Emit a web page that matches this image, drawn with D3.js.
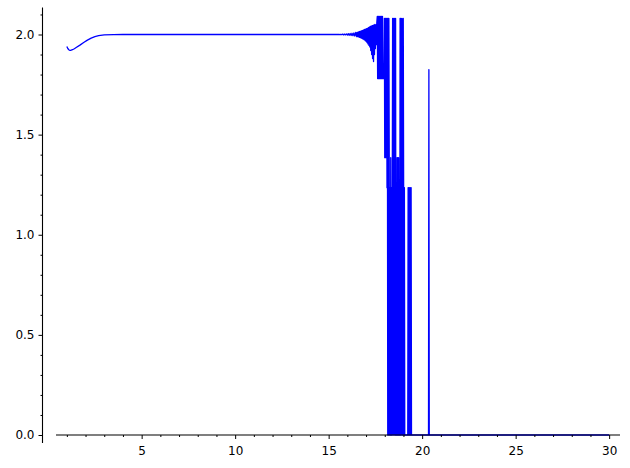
<!DOCTYPE html>
<html>
<head>
<meta charset="utf-8">
<script src="https://cdn.jsdelivr.net/npm/d3@7/dist/d3.min.js"></script>
<style>
  html, body { margin: 0; padding: 0; background: #ffffff; }
  svg { display: block; }
  text { font-family: "DejaVu Sans", sans-serif; font-size: 12px; fill: #000; }
</style>
</head>
<body>
<div id="chart"></div>
<script>
// ---- data ----
// smooth start
const smoothX = [1.00, 1.05, 1.10, 1.15, 1.20, 1.30, 1.40, 1.50, 1.70, 1.90, 2.10, 2.30, 2.50, 2.70, 3.00, 3.50, 4.00, 6.00, 8.00, 10.00, 12.00, 14.00, 15.50];
const smoothY = [1.940, 1.930, 1.924, 1.921, 1.921, 1.924, 1.929, 1.935, 1.947, 1.960, 1.972, 1.982, 1.989, 1.994, 1.998, 1.9995, 2.000, 2.000, 2.000, 2.000, 2.000, 2.000, 2.000];

// growing noise around 2
const noiseX = [15.55, 15.60, 15.65, 15.70, 15.75, 15.80, 15.85, 15.90, 15.95, 16.00, 16.05, 16.10, 16.15, 16.20, 16.25, 16.30, 16.35, 16.40, 16.45,
  16.500, 16.525, 16.550, 16.575, 16.600, 16.625, 16.650, 16.675, 16.700, 16.725, 16.750, 16.775, 16.800, 16.825, 16.850, 16.875, 16.900, 16.925, 16.950, 16.975,
  17.000, 17.025, 17.050, 17.075, 17.100, 17.125, 17.150, 17.175, 17.200, 17.225, 17.250, 17.275, 17.300, 17.325, 17.350, 17.375, 17.400, 17.425, 17.450, 17.475,
  17.500, 17.525, 17.550, 17.575];
const noiseY = [2.001, 1.999, 2.001, 1.999, 2.002, 1.998, 2.002, 1.998, 2.003, 1.997, 2.004, 1.996, 2.005, 1.995, 2.006, 1.994, 2.008, 1.992, 2.010,
  1.990, 2.011, 1.989, 2.012, 1.988, 2.014, 1.986, 2.016, 1.984, 2.017, 1.982, 2.019, 1.980, 2.021, 1.977, 2.023, 1.974, 2.025, 1.970, 2.027,
  1.966, 2.029, 1.960, 2.031, 1.953, 2.034, 1.946, 2.037, 1.938, 2.040, 1.920, 2.042, 1.900, 2.044, 1.880, 2.046, 1.865, 2.048, 1.900, 2.050,
  1.930, 2.048, 1.950, 2.060];

// breakdown region: jumps between a few levels
const jumpX = [17.60, 17.62, 17.64, 17.66, 17.68, 17.70, 17.72, 17.74, 17.76, 17.78, 17.80, 17.82, 17.84, 17.86, 17.88, 17.90, 17.96,
  17.98, 18.00, 18.02, 18.04, 18.06, 18.08, 18.10, 18.12, 18.14, 18.16, 18.18, 18.20, 18.22, 18.24, 18.26, 18.28, 18.30, 18.32, 18.34, 18.36, 18.38,
  18.42, 18.44, 18.46, 18.48, 18.50, 18.52, 18.54, 18.56, 18.58, 18.60, 18.62, 18.64, 18.66, 18.68, 18.70, 18.72, 18.74, 18.76,
  18.80, 18.82, 18.84, 18.86, 18.88, 18.90, 18.92, 18.94, 18.97, 18.99, 19.01, 19.03, 19.05, 19.07,
  19.23, 19.25, 19.27, 19.29, 19.31, 19.33, 19.35, 19.37, 19.39, 19.41, 19.43,
  20.34, 20.36, 20.38, 30.00];
const jumpY = [2.09, 1.78, 2.09, 1.78, 2.09, 1.78, 2.09, 1.78, 2.09, 1.78, 2.09, 1.78, 2.09, 1.78, 2.09, 1.78, 1.78,
  2.08, 1.385, 2.08, 1.385, 2.08, 1.385, 2.08, 1.235, 2.08, 0, 2.08, 0, 2.08, 1.385, 0, 1.235, 0, 1.385, 0, 1.235, 0,
  2.08, 0, 2.08, 1.235, 0, 2.08, 1.385, 0, 2.08, 0, 1.235, 0, 1.385, 0, 1.385, 0, 1.385, 0,
  0, 2.08, 0, 2.08, 0, 1.235, 2.08, 0, 0, 2.08, 1.235, 0, 1.235, 0,
  0, 1.235, 0, 1.235, 0, 1.235, 0, 1.235, 0, 1.235, 0,
  0, 1.825, 0, 0];

const xTickValues = [5, 10, 15, 20, 25, 30];
const xTickLabels = ["5", "10", "15", "20", "25", "30"];
const yTickValues = [0.0, 0.5, 1.0, 1.5, 2.0];
const yTickLabels = ["0.0", "0.5", "1.0", "1.5", "2.0"];
const xMinorValues = d3.range(1, 31, 1);
const yMinorValues = d3.range(0, 22, 1).map(d => d / 10);

// ---- drawing ----
const W = 630, H = 468;
const svg = d3.select("#chart").append("svg").attr("width", W).attr("height", H);

const x = d3.scaleLinear().domain([0.42, 30.58]).range([56, 620]);
const y = d3.scaleLinear().domain([0, 2]).range([435, 34.5]);

const pts = [];
smoothX.forEach((v, i) => pts.push([v, smoothY[i]]));
noiseX.forEach((v, i) => pts.push([v, noiseY[i]]));
jumpX.forEach((v, i) => pts.push([v, jumpY[i]]));

const line = d3.line().x(d => x(d[0])).y(d => y(d[1]));

svg.append("path")
  .datum(pts)
  .attr("d", line)
  .attr("fill", "none")
  .attr("stroke", "#0000ff")
  .attr("stroke-width", 1.3)
  .attr("stroke-linejoin", "round");

// y axis (left spine at fixed pixel column)
const yAxisX = 42.5;
const yAxis = d3.axisLeft(y).tickValues(yTickValues).tickFormat((d, i) => yTickLabels[i]).tickSize(4).tickPadding(4);
const yAxisMinor = d3.axisLeft(y).tickValues(yMinorValues.filter(v => yTickValues.indexOf(v) < 0)).tickFormat("").tickSize(2);
svg.append("g").attr("transform", `translate(${yAxisX},0)`).call(yAxis);
svg.append("g").attr("transform", `translate(${yAxisX},0)`).call(yAxisMinor);
svg.append("line").attr("x1", yAxisX).attr("x2", yAxisX)
  .attr("y1", y(2.135)).attr("y2", y(-0.04)).attr("stroke", "#000").attr("stroke-width", 1.1);

// x axis at y = 0
const xAxisY = 435;
const xAxis = d3.axisBottom(x).tickValues(xTickValues).tickFormat((d, i) => xTickLabels[i]).tickSize(4).tickPadding(7);
const xAxisMinor = d3.axisBottom(x).tickValues(xMinorValues.filter(v => xTickValues.indexOf(v) < 0)).tickFormat("").tickSize(2);
svg.append("g").attr("transform", `translate(0,${xAxisY})`).call(xAxis);
svg.append("g").attr("transform", `translate(0,${xAxisY})`).call(xAxisMinor);
svg.selectAll(".domain").remove();
svg.append("line").attr("x1", 56).attr("x2", 620)
  .attr("y1", xAxisY).attr("y2", xAxisY).attr("stroke", "#000").attr("stroke-width", 1.1);

svg.selectAll(".tick text").style("font-family", "'DejaVu Sans', sans-serif").style("font-size", "12px").attr("fill", "#000");
svg.selectAll(".tick line").attr("stroke", "#000").attr("stroke-width", 1);
</script>
</body>
</html>
